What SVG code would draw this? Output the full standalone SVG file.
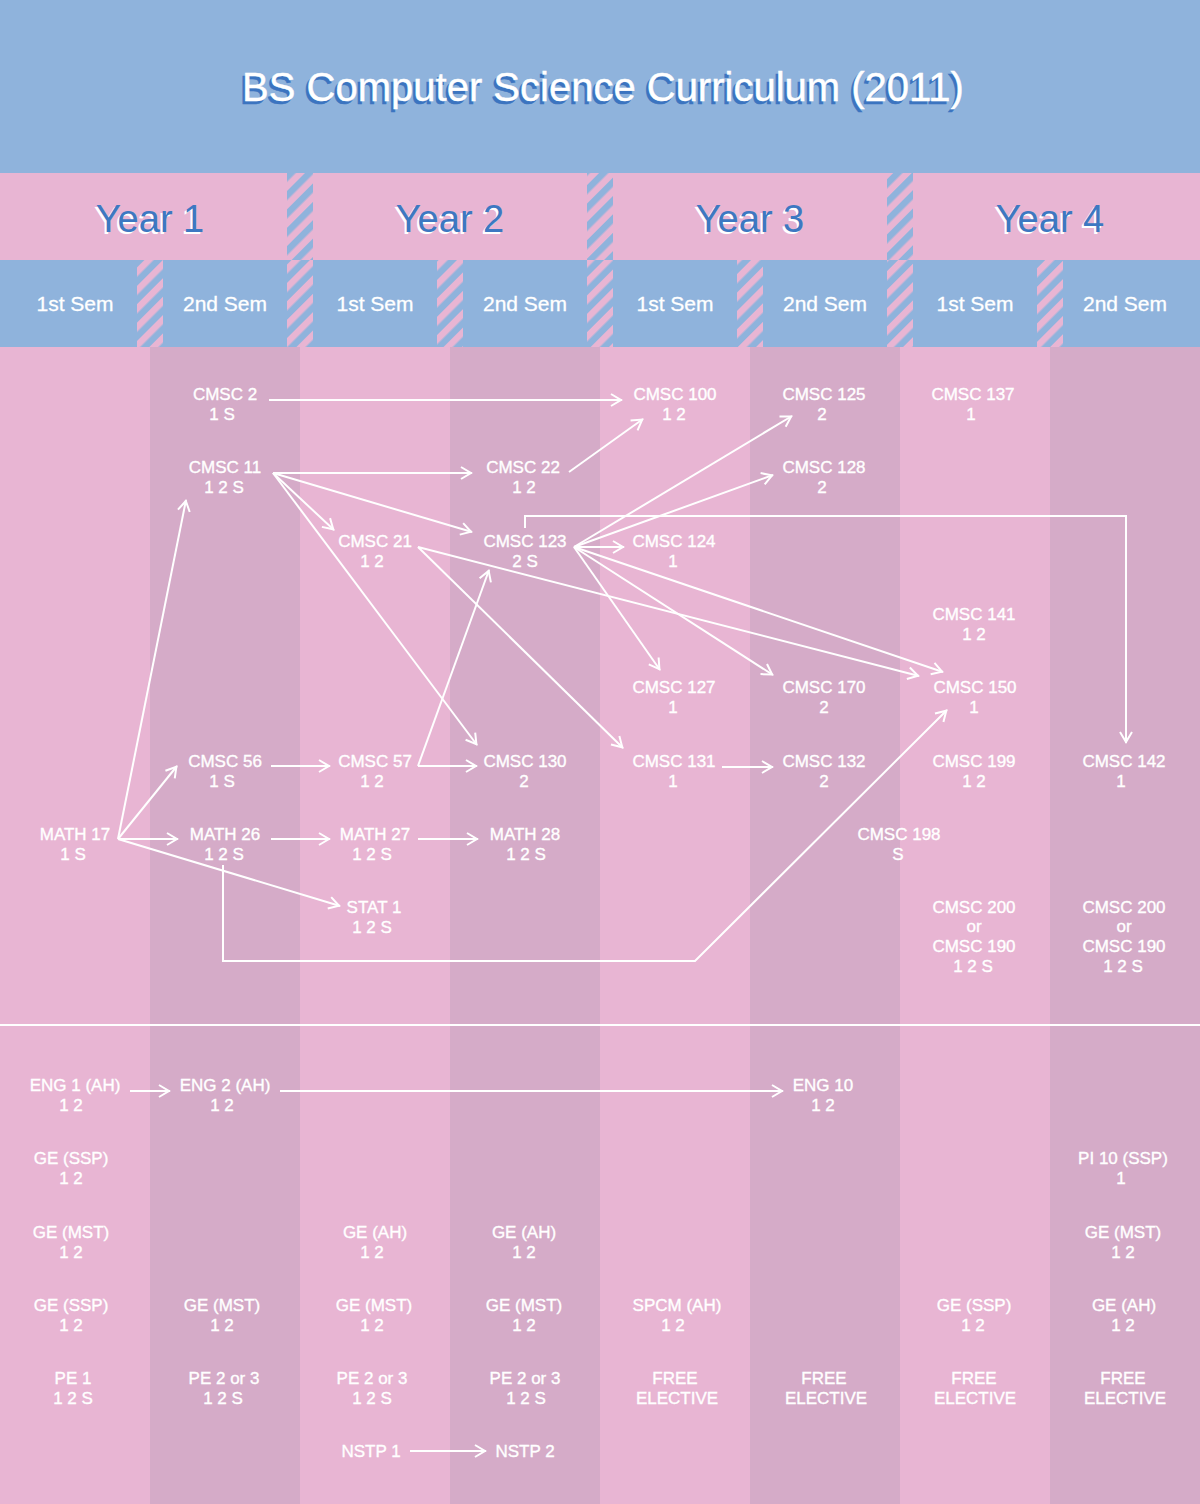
<svg xmlns="http://www.w3.org/2000/svg" width="1200" height="1504" viewBox="0 0 1200 1504">
<style>
.n{font-family:"Liberation Sans",Arial,Helvetica,sans-serif;font-size:17px;fill:#fff;stroke:#fff;stroke-width:0.35px;text-anchor:middle}
.sem{font-family:"Liberation Sans",Arial,Helvetica,sans-serif;font-size:21px;fill:#fff;stroke:#fff;stroke-width:0.3px;text-anchor:middle}
.yr{font-family:"Liberation Sans",Arial,Helvetica,sans-serif;font-size:38px;fill:#3d78c2;text-anchor:middle}
.yrs{font-family:"Liberation Sans",Arial,Helvetica,sans-serif;font-size:38px;fill:#fff;text-anchor:middle}
.tt{font-family:"Liberation Sans",Arial,Helvetica,sans-serif;font-size:40px;fill:#fff;stroke:#fff;stroke-width:0.4px;text-anchor:middle}
.tts{font-family:"Liberation Sans",Arial,Helvetica,sans-serif;font-size:40px;fill:#3b74c0;stroke:#3b74c0;stroke-width:0.6px;text-anchor:middle}
.c{fill:none;stroke:#fff;stroke-width:2;marker-end:url(#arr)}
.lt{fill:#e8b5d3}
.dk{fill:#d5abc8}
</style>
<defs>
<marker id="arr" markerUnits="userSpaceOnUse" markerWidth="14" markerHeight="14" refX="11" refY="6" orient="auto" overflow="visible">
<path d="M0,0 L10,6 L0,12" fill="none" stroke="#fff" stroke-width="2"/>
</marker>
<pattern id="stB" patternUnits="userSpaceOnUse" width="13" height="13" patternTransform="rotate(45)">
<rect width="13" height="13" fill="#e8b5d3"/>
<rect width="6.5" height="13" fill="#8fb3dc"/>
</pattern>
<pattern id="stP" patternUnits="userSpaceOnUse" width="13" height="13" patternTransform="rotate(45)">
<rect width="13" height="13" fill="#8fb3dc"/>
<rect width="6.5" height="13" fill="#e8b5d3"/>
</pattern>
</defs>

<g id="background">
<rect x="0" y="0" width="1200" height="173" fill="#8fb3dc"/>
<rect x="0" y="173" width="1200" height="87" fill="#e8b5d3"/>
<rect x="0" y="260" width="1200" height="87" fill="#8fb3dc"/>
<rect class="lt" x="0" y="347" width="150" height="1157"/>
<rect class="dk" x="150" y="347" width="150" height="1157"/>
<rect class="lt" x="300" y="347" width="150" height="1157"/>
<rect class="dk" x="450" y="347" width="150" height="1157"/>
<rect class="lt" x="600" y="347" width="150" height="1157"/>
<rect class="dk" x="750" y="347" width="150" height="1157"/>
<rect class="lt" x="900" y="347" width="150" height="1157"/>
<rect class="dk" x="1050" y="347" width="150" height="1157"/>
<rect x="287" y="173" width="26" height="87" fill="url(#stB)"/>
<rect x="587" y="173" width="26" height="87" fill="url(#stB)"/>
<rect x="887" y="173" width="26" height="87" fill="url(#stB)"/>
<rect x="137" y="260" width="26" height="87" fill="url(#stP)"/>
<rect x="287" y="260" width="26" height="87" fill="url(#stP)"/>
<rect x="437" y="260" width="26" height="87" fill="url(#stP)"/>
<rect x="587" y="260" width="26" height="87" fill="url(#stP)"/>
<rect x="737" y="260" width="26" height="87" fill="url(#stP)"/>
<rect x="887" y="260" width="26" height="87" fill="url(#stP)"/>
<rect x="1037" y="260" width="26" height="87" fill="url(#stP)"/>
<line x1="0" y1="1025" x2="1200" y2="1025" stroke="#fff" stroke-width="2"/>
</g>

<g id="title">
<text class="tts" x="600.5" y="103.5">BS Computer Science Curriculum (2011)</text>
<text class="tt" x="603" y="101">BS Computer Science Curriculum (2011)</text>
</g>

<g id="years">
<text class="yrs" x="148" y="234">Year 1</text><text class="yr" x="150" y="232">Year 1</text>
<text class="yrs" x="448" y="234">Year 2</text><text class="yr" x="450" y="232">Year 2</text>
<text class="yrs" x="748" y="234">Year 3</text><text class="yr" x="750" y="232">Year 3</text>
<text class="yrs" x="1048" y="234">Year 4</text><text class="yr" x="1050" y="232">Year 4</text>
</g>

<g id="semesters">
<text class="sem" x="75" y="311">1st Sem</text>
<text class="sem" x="225" y="311">2nd Sem</text>
<text class="sem" x="375" y="311">1st Sem</text>
<text class="sem" x="525" y="311">2nd Sem</text>
<text class="sem" x="675" y="311">1st Sem</text>
<text class="sem" x="825" y="311">2nd Sem</text>
<text class="sem" x="975" y="311">1st Sem</text>
<text class="sem" x="1125" y="311">2nd Sem</text>
</g>

<g id="connectors">
<path class="c" d="M269,400 L622,400"/>
<path class="c" d="M273,473 L472,473"/>
<path class="c" d="M273,473 L334,530"/>
<path class="c" d="M273,473 L472,532"/>
<path class="c" d="M273,473 L477,745"/>
<path class="c" d="M569,472 L643,419"/>
<path class="c" d="M418,547 L919,676"/>
<path class="c" d="M418,547 L623,748"/>
<path class="c" d="M574,547 L792,416"/>
<path class="c" d="M574,547 L773,475"/>
<path class="c" d="M574,547 L624,547"/>
<path class="c" d="M574,547 L660,670"/>
<path class="c" d="M574,547 L773,675"/>
<path class="c" d="M574,547 L943,672"/>
<path class="c" d="M525,528 L525,516 L1126,516 L1126,743"/>
<path class="c" d="M418,766 L477,766"/>
<path class="c" d="M418,766 L489,570"/>
<path class="c" d="M271,766 L330,766"/>
<path class="c" d="M118,839 L186,500"/>
<path class="c" d="M118,839 L177,766"/>
<path class="c" d="M118,839 L178,839"/>
<path class="c" d="M118,839 L340,906"/>
<path class="c" d="M271,839 L330,839"/>
<path class="c" d="M418,839 L478,839"/>
<path class="c" d="M223,865 L223,961 L695,961 L947,710"/>
<path class="c" d="M722,767 L773,767"/>
<path class="c" d="M130,1091 L170,1091"/>
<path class="c" d="M280,1091 L783,1091"/>
<path class="c" d="M410,1451 L486,1451"/>
</g>

<g id="cmsc2"><text class="n" x="225" y="400">CMSC 2</text><text class="n" x="222" y="420">1 S</text></g>
<g id="cmsc100"><text class="n" x="675" y="400">CMSC 100</text><text class="n" x="674" y="420">1 2</text></g>
<g id="cmsc125"><text class="n" x="824" y="400">CMSC 125</text><text class="n" x="822" y="420">2</text></g>
<g id="cmsc137"><text class="n" x="973" y="400">CMSC 137</text><text class="n" x="971" y="420">1</text></g>
<g id="cmsc11"><text class="n" x="225" y="473">CMSC 11</text><text class="n" x="224" y="493">1 2 S</text></g>
<g id="cmsc22"><text class="n" x="523" y="473">CMSC 22</text><text class="n" x="524" y="493">1 2</text></g>
<g id="cmsc128"><text class="n" x="824" y="473">CMSC 128</text><text class="n" x="822" y="493">2</text></g>
<g id="cmsc21"><text class="n" x="375" y="547">CMSC 21</text><text class="n" x="372" y="567">1 2</text></g>
<g id="cmsc123"><text class="n" x="525" y="547">CMSC 123</text><text class="n" x="525" y="567">2 S</text></g>
<g id="cmsc124"><text class="n" x="674" y="547">CMSC 124</text><text class="n" x="673" y="567">1</text></g>
<g id="cmsc141"><text class="n" x="974" y="620">CMSC 141</text><text class="n" x="974" y="640">1 2</text></g>
<g id="cmsc127"><text class="n" x="674" y="693">CMSC 127</text><text class="n" x="673" y="713">1</text></g>
<g id="cmsc170"><text class="n" x="824" y="693">CMSC 170</text><text class="n" x="824" y="713">2</text></g>
<g id="cmsc150"><text class="n" x="975" y="693">CMSC 150</text><text class="n" x="974" y="713">1</text></g>
<g id="cmsc56"><text class="n" x="225" y="767">CMSC 56</text><text class="n" x="222" y="787">1 S</text></g>
<g id="cmsc57"><text class="n" x="375" y="767">CMSC 57</text><text class="n" x="372" y="787">1 2</text></g>
<g id="cmsc130"><text class="n" x="525" y="767">CMSC 130</text><text class="n" x="524" y="787">2</text></g>
<g id="cmsc131"><text class="n" x="674" y="767">CMSC 131</text><text class="n" x="673" y="787">1</text></g>
<g id="cmsc132"><text class="n" x="824" y="767">CMSC 132</text><text class="n" x="824" y="787">2</text></g>
<g id="cmsc199"><text class="n" x="974" y="767">CMSC 199</text><text class="n" x="974" y="787">1 2</text></g>
<g id="cmsc142"><text class="n" x="1124" y="767">CMSC 142</text><text class="n" x="1121" y="787">1</text></g>
<g id="math17"><text class="n" x="75" y="840">MATH 17</text><text class="n" x="73" y="860">1 S</text></g>
<g id="math26"><text class="n" x="225" y="840">MATH 26</text><text class="n" x="224" y="860">1 2 S</text></g>
<g id="math27"><text class="n" x="375" y="840">MATH 27</text><text class="n" x="372" y="860">1 2 S</text></g>
<g id="math28"><text class="n" x="525" y="840">MATH 28</text><text class="n" x="526" y="860">1 2 S</text></g>
<g id="cmsc198"><text class="n" x="899" y="840">CMSC 198</text><text class="n" x="898" y="860">S</text></g>
<g id="stat1"><text class="n" x="374" y="913">STAT 1</text><text class="n" x="372" y="933">1 2 S</text></g>
<g id="cmsc200a"><text class="n" x="974" y="913">CMSC 200</text><text class="n" x="974" y="932">or</text><text class="n" x="974" y="952">CMSC 190</text><text class="n" x="973" y="972">1 2 S</text></g>
<g id="cmsc200b"><text class="n" x="1124" y="913">CMSC 200</text><text class="n" x="1124" y="932">or</text><text class="n" x="1124" y="952">CMSC 190</text><text class="n" x="1123" y="972">1 2 S</text></g>

<g id="eng1"><text class="n" x="75" y="1091">ENG 1 (AH)</text><text class="n" x="71" y="1111">1 2</text></g>
<g id="eng2"><text class="n" x="225" y="1091">ENG 2 (AH)</text><text class="n" x="222" y="1111">1 2</text></g>
<g id="eng10"><text class="n" x="823" y="1091">ENG 10</text><text class="n" x="823" y="1111">1 2</text></g>
<g id="ge-ssp-1"><text class="n" x="71" y="1164">GE (SSP)</text><text class="n" x="71" y="1184">1 2</text></g>
<g id="pi10"><text class="n" x="1123" y="1164">PI 10 (SSP)</text><text class="n" x="1121" y="1184">1</text></g>
<g id="ge-mst-1"><text class="n" x="71" y="1238">GE (MST)</text><text class="n" x="71" y="1258">1 2</text></g>
<g id="ge-ah-3"><text class="n" x="375" y="1238">GE (AH)</text><text class="n" x="372" y="1258">1 2</text></g>
<g id="ge-ah-4"><text class="n" x="524" y="1238">GE (AH)</text><text class="n" x="524" y="1258">1 2</text></g>
<g id="ge-mst-8"><text class="n" x="1123" y="1238">GE (MST)</text><text class="n" x="1123" y="1258">1 2</text></g>
<g id="ge-ssp-1b"><text class="n" x="71" y="1311">GE (SSP)</text><text class="n" x="71" y="1331">1 2</text></g>
<g id="ge-mst-2"><text class="n" x="222" y="1311">GE (MST)</text><text class="n" x="222" y="1331">1 2</text></g>
<g id="ge-mst-3"><text class="n" x="374" y="1311">GE (MST)</text><text class="n" x="372" y="1331">1 2</text></g>
<g id="ge-mst-4"><text class="n" x="524" y="1311">GE (MST)</text><text class="n" x="524" y="1331">1 2</text></g>
<g id="spcm"><text class="n" x="677" y="1311">SPCM (AH)</text><text class="n" x="673" y="1331">1 2</text></g>
<g id="ge-ssp-7"><text class="n" x="974" y="1311">GE (SSP)</text><text class="n" x="973" y="1331">1 2</text></g>
<g id="ge-ah-8"><text class="n" x="1124" y="1311">GE (AH)</text><text class="n" x="1123" y="1331">1 2</text></g>
<g id="pe1"><text class="n" x="73" y="1384">PE 1</text><text class="n" x="73" y="1404">1 2 S</text></g>
<g id="pe2-2"><text class="n" x="224" y="1384">PE 2 or 3</text><text class="n" x="223" y="1404">1 2 S</text></g>
<g id="pe2-3"><text class="n" x="372" y="1384">PE 2 or 3</text><text class="n" x="372" y="1404">1 2 S</text></g>
<g id="pe2-4"><text class="n" x="525" y="1384">PE 2 or 3</text><text class="n" x="526" y="1404">1 2 S</text></g>
<g id="free5"><text class="n" x="675" y="1384">FREE</text><text class="n" x="677" y="1404">ELECTIVE</text></g>
<g id="free6"><text class="n" x="824" y="1384">FREE</text><text class="n" x="826" y="1404">ELECTIVE</text></g>
<g id="free7"><text class="n" x="974" y="1384">FREE</text><text class="n" x="975" y="1404">ELECTIVE</text></g>
<g id="free8"><text class="n" x="1123" y="1384">FREE</text><text class="n" x="1125" y="1404">ELECTIVE</text></g>
<g id="nstp1"><text class="n" x="371" y="1457">NSTP 1</text></g>
<g id="nstp2"><text class="n" x="525" y="1457">NSTP 2</text></g>
</svg>
